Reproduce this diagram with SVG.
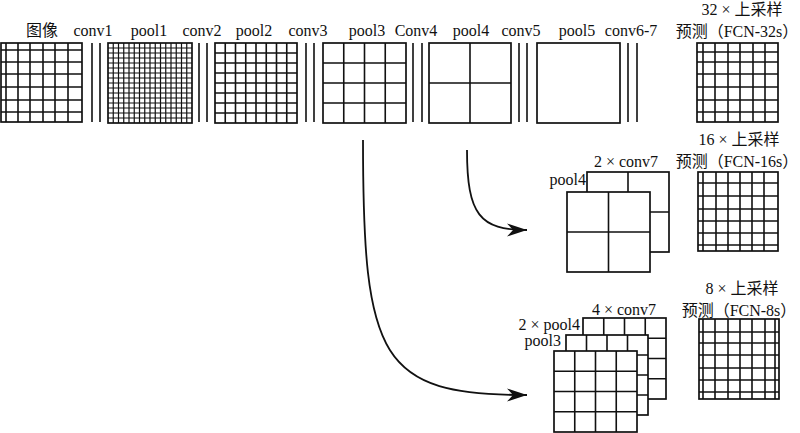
<svg xmlns="http://www.w3.org/2000/svg" width="800" height="433" viewBox="0 0 800 433">
<style>
text{font-family:"Liberation Serif","Noto Sans CJK SC",serif;font-size:16px;fill:#111}
.box{fill:#fff;stroke:#111;stroke-width:1.7}
.g{fill:none;stroke:#111;stroke-width:1.6}
.gf{fill:none;stroke:#111;stroke-width:1.2}
.c{fill:none;stroke:#111;stroke-width:1.6}
.m{text-anchor:middle}
.e{text-anchor:end}
.arr{fill:none;stroke:#111;stroke-width:1.8}
</style>
<defs>
<marker id="ah" markerUnits="userSpaceOnUse" markerWidth="22" markerHeight="16" refX="20" refY="7.5" orient="auto">
<path d="M0,1 L20,7.5 L0,14 L6,7.5 Z" fill="#111"/>
</marker>
</defs>
<rect width="800" height="433" fill="#fff"/>

<g id="image">
<text class="m" x="42" y="36">图像</text>
<rect class="box" x="1" y="43" width="81" height="79"/>
<path class="g" d="M6,43V122M18,43V122M30,43V122M43,43V122M55,43V122M68,43V122M1,50H82M1,62H82M1,74H82M1,87H82M1,100H82M1,112H82"/>
</g>

<g id="conv1">
<text class="m" x="93" y="36">conv1</text>
<path class="c" d="M92,43V122M100,43V122"/>
</g>

<g id="pool1">
<text class="m" x="149" y="36">pool1</text>
<rect class="box" x="108" y="43" width="84" height="80"/>
<path class="gf" d="M113.25,43V123M118.5,43V123M123.75,43V123M129,43V123M134.25,43V123M139.5,43V123M144.75,43V123M150,43V123M155.25,43V123M160.5,43V123M165.75,43V123M171,43V123M176.25,43V123M181.5,43V123M186.75,43V123M108,48H192M108,53H192M108,58H192M108,63H192M108,68H192M108,73H192M108,78H192M108,83H192M108,88H192M108,93H192M108,98H192M108,103H192M108,108H192M108,113H192M108,118H192"/>
</g>

<g id="conv2">
<text class="m" x="202" y="36">conv2</text>
<path class="c" d="M199,43V122M207,43V122"/>
</g>

<g id="pool2">
<text class="m" x="254" y="36">pool2</text>
<rect class="box" x="215" y="43" width="82" height="80"/>
<path class="g" d="M225.25,43V123M235.5,43V123M245.75,43V123M256,43V123M266.25,43V123M276.5,43V123M286.75,43V123M215,53H297M215,63H297M215,73H297M215,83H297M215,93H297M215,103H297M215,113H297"/>
</g>

<g id="conv3">
<text class="m" x="308" y="36">conv3</text>
<path class="c" d="M306,43V122M314,43V122"/>
</g>

<g id="pool3">
<text class="m" x="367" y="36">pool3</text>
<rect class="box" x="323" y="43" width="83" height="80"/>
<path class="g" d="M343.75,43V123M364.5,43V123M385.25,43V123M323,63H406M323,83H406M323,103H406"/>
</g>

<g id="conv4">
<text class="m" x="416" y="36">Conv4</text>
<path class="c" d="M413,43V122M422,43V122"/>
</g>

<g id="pool4">
<text class="m" x="471" y="36">pool4</text>
<rect class="box" x="429" y="43" width="82" height="80"/>
<path class="g" d="M470,43V123M429,83H511"/>
</g>

<g id="conv5">
<text class="m" x="521" y="36">conv5</text>
<path class="c" d="M519,43V122M527,43V122"/>
</g>

<g id="pool5">
<text class="m" x="577" y="36">pool5</text>
<rect class="box" x="537" y="43" width="83" height="80"/>
</g>

<g id="conv6-7">
<text class="m" x="631" y="36">conv6-7</text>
<path class="c" d="M628,43V122M637,43V122"/>
</g>

<g id="fcn32s">
<text class="m" x="742" y="15">32 × 上采样</text>
<text class="m" x="737" y="37">预测（FCN-32s）</text>
<rect class="box" x="697" y="43" width="81" height="79"/>
<path class="g" d="M703,43V122M715,43V122M728,43V122M740,43V122M753,43V122M765,43V122M697,52H778M697,62H778M697,74H778M697,87H778M697,100H778M697,112H778"/>
</g>

<g id="fuse16">
<text class="m" x="626" y="167">2 × conv7</text>
<text class="e" x="586" y="185">pool4</text>
<rect class="box" x="587" y="172" width="82" height="80"/>
<path class="g" d="M628,172V252M587,212H669"/>
<rect class="box" x="567" y="192" width="83" height="80"/>
<path class="g" d="M608.5,192V272M567,232H650"/>
</g>

<g id="fcn16s">
<text class="m" x="739" y="145">16 × 上采样</text>
<text class="m" x="737" y="167">预测（FCN-16s）</text>
<rect class="box" x="698" y="172" width="80" height="79"/>
<path class="g" d="M703,172V251M716,172V251M728,172V251M740,172V251M752,172V251M764,172V251M698,183H778M698,196H778M698,209H778M698,221H778M698,233H778M698,245H778"/>
</g>

<g id="fuse8">
<text class="m" x="624" y="315">4 × conv7</text>
<text class="e" x="580" y="330">2 × pool4</text>
<text class="e" x="561" y="346">pool3</text>
<rect class="box" x="583" y="318" width="83" height="81"/>
<path class="g" d="M603.75,318V399M624.5,318V399M645.25,318V399M583,338.25H666M583,358.5H666M583,378.75H666"/>
<rect class="box" x="566" y="335" width="82" height="80"/>
<path class="g" d="M586.5,335V415M607,335V415M627.5,335V415M566,355H648M566,375H648M566,395H648"/>
<rect class="box" x="554" y="351" width="83" height="81"/>
<path class="g" d="M574.75,351V432M595.5,351V432M616.25,351V432M554,371.25H637M554,391.5H637M554,411.75H637"/>
</g>

<g id="fcn8s">
<text class="m" x="742" y="294">8 × 上采样</text>
<text class="m" x="739" y="316">预测（FCN-8s）</text>
<rect class="box" x="699" y="319" width="80" height="80"/>
<path class="g" d="M703,319V399M715,319V399M728,319V399M740,319V399M752,319V399M765,319V399M775,319V399M699,332H779M699,343H779M699,355H779M699,368H779M699,380H779M699,392H779"/>
</g>

<g id="connectors">
<path class="arr" d="M467,150 C467,215 480,230 527,230" marker-end="url(#ah)"/>
<path class="arr" d="M363,140 C363,360 380,395 527,395" marker-end="url(#ah)"/>
</g>
</svg>
